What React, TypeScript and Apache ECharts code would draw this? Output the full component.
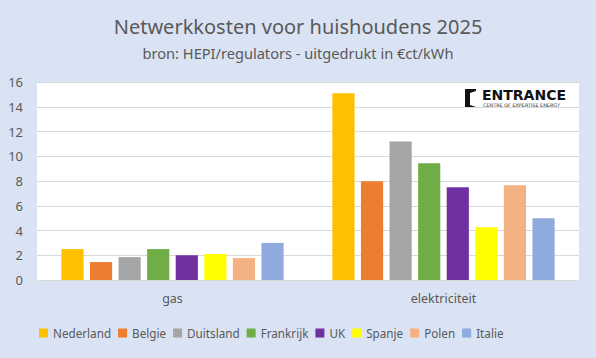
import React, { useEffect, useRef } from "react";
import * as echarts from "echarts";

const categories = ["gas", "elektriciteit"];
const countries = ["Nederland", "Belgie", "Duitsland", "Frankrijk", "UK", "Spanje", "Polen", "Italie"];
const gasValues = [2.5, 1.45, 1.85, 2.5, 2.0, 2.1, 1.77, 3.0];
const elecValues = [15.1, 7.98, 11.2, 9.43, 7.5, 4.27, 7.66, 5.0];
const colors = ["#FFC000", "#ED7D31", "#A5A5A5", "#70AD47", "#7030A0", "#FFFF00", "#F4B183", "#8FAADC"];
const yTicks = [0, 2, 4, 6, 8, 10, 12, 14, 16];

const FONT = "'Noto Sans', 'Open Sans', sans-serif";

export default function App() {
  const ref = useRef<HTMLDivElement>(null);
  useEffect(() => {
    if (!ref.current) return;
    const chart = echarts.init(ref.current, undefined, { renderer: "svg" });
    const series = countries.map((name, i) => ({
      name,
      type: "bar",
      data: [gasValues[i], elecValues[i]],
      itemStyle: { color: colors[i] },
      barGap: "29%",
      barCategoryGap: "18%",
    }));
    chart.setOption({
      animation: false,
      backgroundColor: "#DAE3F3",
      textStyle: { fontFamily: FONT },
      title: [
        {
          text: "Netwerkkosten voor huishoudens 2025",
          left: "center",
          top: 11,
          textStyle: { fontFamily: FONT, fontSize: 20, fontWeight: "normal", color: "#595959" },
        },
        {
          text: "bron: HEPI/regulators - uitgedrukt in €ct/kWh",
          left: "center",
          top: 40,
          textStyle: { fontFamily: FONT, fontSize: 14.6, fontWeight: "normal", color: "#595959" },
        },
      ],
      grid: {
        left: 37,
        right: 17,
        top: 82,
        bottom: 78,
        show: true,
        backgroundColor: "#FFFFFF",
        borderWidth: 0,
        containLabel: false,
      },
      legend: {
        data: countries,
        left: 34,
        top: 322,
        itemWidth: 9,
        itemHeight: 9,
        itemGap: 7,
        icon: "rect",
        textStyle: { fontFamily: FONT, fontSize: 11.7, color: "#595959" },
      },
      xAxis: {
        type: "category",
        data: categories,
        axisLine: { show: true, lineStyle: { color: "#D9D9D9", width: 1 } },
        axisTick: { show: false },
        axisLabel: { margin: 12, fontFamily: FONT, fontSize: 12.5, color: "#595959" },
      },
      yAxis: {
        type: "value",
        min: yTicks[0],
        max: yTicks[yTicks.length - 1],
        interval: 2,
        axisLine: { show: false },
        axisTick: { show: false },
        splitLine: { lineStyle: { color: "#D9D9D9", width: 1 } },
        axisLabel: { margin: 14, fontFamily: FONT, fontSize: 13, color: "#595959" },
      },
      series,
      graphic: [
        {
          type: "group",
          left: 460,
          top: 85,
          children: [
            { type: "rect", shape: { x: 0, y: 0, width: 117, height: 24 }, style: { fill: "#FFFFFF" } },
            {
              type: "polygon",
              shape: { points: [[5, 4], [16, 4], [16, 6], [10, 8], [10, 20], [16, 22], [5, 22]] },
              style: { fill: "#111111" },
            },
            {
              type: "text",
              x: 22,
              y: 3,
              style: { text: "ENTRANCE", fontFamily: "'DejaVu Sans', sans-serif", fontSize: 14, fontWeight: "bold", fill: "#111111" },
            },
            {
              type: "text",
              x: 23,
              y: 17.8,
              style: { text: "CENTRE OF EXPERTISE ENERGY", fontFamily: "'DejaVu Sans', sans-serif", fontSize: 4.9, fill: "#333333" },
            },
          ],
        },
      ],
    });
    return () => chart.dispose();
  }, []);
  return <div ref={ref} style={{ width: 596, height: 358, position: "absolute", left: 0, top: 0 }} />;
}
